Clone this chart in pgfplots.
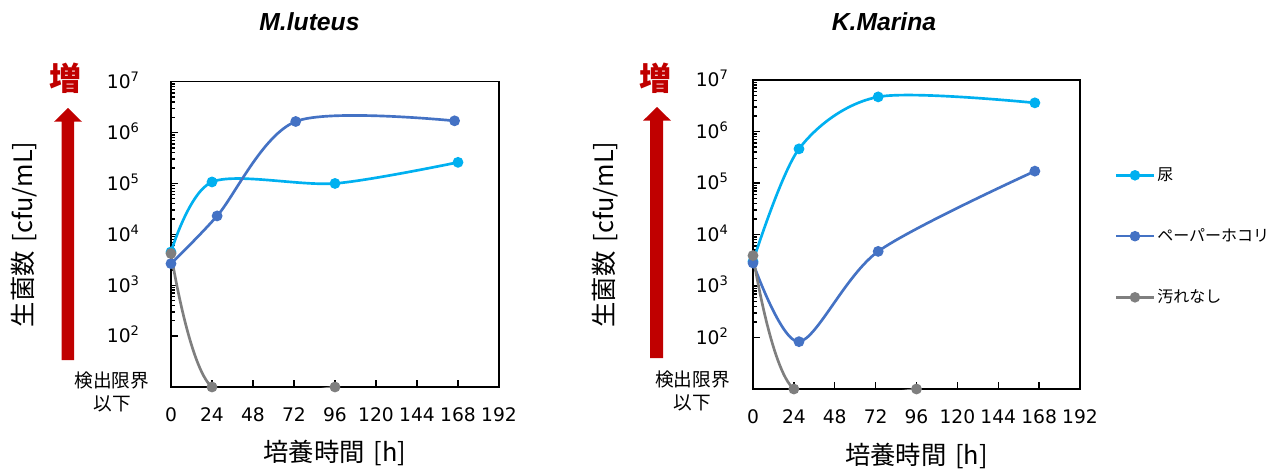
\documentclass[border=0pt]{standalone}
\usepackage{fontspec}
\setmainfont{DejaVu Sans}
\newfontfamily\jp{Noto Sans CJK JP}
\newfontfamily\arial{Liberation Sans}
\usepackage{pgfplots}
\pgfplotsset{compat=1.18}
\definecolor{cUrine}{HTML}{00B0F0}
\definecolor{cPaper}{HTML}{4472C4}
\definecolor{cNone}{HTML}{7F7F7F}
\definecolor{cRed}{HTML}{C00000}

\begin{document}
\begin{tikzpicture}
\path (0,0) rectangle (962.25pt,-352.5pt);

% left
\begin{axis}[
  ymode=log, xmin=0, xmax=192, ymin=10, ymax=1e7,
  scale only axis,
  xtick={0,24,48,72,96,120,144,168,192},
  ytick={100,1000,10000,100000,1000000,10000000},
  yticklabels={10\textsuperscript{2},10\textsuperscript{3},10\textsuperscript{4},10\textsuperscript{5},10\textsuperscript{6},10\textsuperscript{7}},
  tick pos=left,
  tick align=inside,
  major tick length=5pt,
  axis line style={line width=1pt},
  every tick/.style={black, line width=1pt},
  /pgf/number format/assume math mode=true,
  tick label style={font=\fontsize{14}{16}\selectfont},
  xticklabel style={yshift=-12pt},
  xlabel={培養時間\hspace{0.35em}[h]},
  ylabel={生菌数\hspace{0.35em}[cfu/mL]},
  at={(128.25pt,-290.25pt)}, anchor=south west,
  width=246pt, height=229pt,
  yticklabel style={anchor=base east, yshift=-5.1pt, xshift=-20pt},
  xlabel style={at={(axis description cs:0.5,-0.216)}, anchor=center, font=\jp\fontsize{19}{21}\selectfont},
  ylabel style={at={(axis description cs:-0.448,0.5)}, anchor=center, font=\jp\fontsize{19}{21}\selectfont},
]
\addplot[color=cUrine, smooth, line width=2pt, mark=*, mark size=3pt, mark options={fill=cUrine}] coordinates {(0,4500) (24,107000) (96,100000) (168,260000)};
\addplot[color=cPaper, smooth, line width=2pt, mark=*, mark size=3pt, mark options={fill=cPaper}] coordinates {(0,2660) (27,23000) (73,1650000) (166,1700000)};
\addplot[color=cNone, smooth, line width=2pt, mark=*, mark size=3pt, mark options={fill=cNone}] coordinates {(0,4200) (24,10) (96,10)};
\end{axis}

% right
\begin{axis}[
  ymode=log, xmin=0, xmax=192, ymin=10, ymax=1e7,
  scale only axis,
  xtick={0,24,48,72,96,120,144,168,192},
  ytick={100,1000,10000,100000,1000000,10000000},
  yticklabels={10\textsuperscript{2},10\textsuperscript{3},10\textsuperscript{4},10\textsuperscript{5},10\textsuperscript{6},10\textsuperscript{7}},
  tick pos=left,
  tick align=inside,
  major tick length=5pt,
  axis line style={line width=1pt},
  every tick/.style={black, line width=1pt},
  /pgf/number format/assume math mode=true,
  tick label style={font=\fontsize{14}{16}\selectfont},
  xticklabel style={yshift=-12pt},
  xlabel={培養時間\hspace{0.35em}[h]},
  ylabel={生菌数\hspace{0.35em}[cfu/mL]},
  at={(564.75pt,-291.75pt)}, anchor=south west,
  width=245.25pt, height=231.75pt,
  yticklabel style={anchor=base east, yshift=-5.1pt, xshift=-14.8pt},
  xlabel style={at={(axis description cs:0.5,-0.217)}, anchor=center, font=\jp\fontsize{19}{21}\selectfont},
  ylabel style={at={(axis description cs:-0.4526,0.5)}, anchor=center, font=\jp\fontsize{19}{21}\selectfont},
  legend style={draw=none, fill=none, at={(axis description cs:1.107,0.725)}, anchor=north west,
    font=\jp\fontsize{12}{14}\selectfont, row sep=30.5pt, inner sep=0pt},
  legend cell align=left,
  legend image code/.code={\draw[mark repeat=2,mark phase=2,line width=1.8pt] plot coordinates {(0pt,0pt) (13.9pt,0pt) (27.75pt,0pt)};},
]
\addplot[color=cUrine, smooth, line width=2pt, mark=*, mark size=3pt, mark options={fill=cUrine}] coordinates {(0,3000) (27,460000) (73.5,4700000) (165.5,3600000)};
\addlegendentry{尿}
\addplot[color=cPaper, smooth, line width=2pt, mark=*, mark size=3pt, mark options={fill=cPaper}] coordinates {(0,2800) (27,83) (73.5,4700) (165.5,170000)};
\addlegendentry{ペーパーホコリ}
\addplot[color=cNone, smooth, line width=2pt, mark=*, mark size=3pt, mark options={fill=cNone}] coordinates {(0,3900) (24,10) (96,10)};
\addlegendentry{汚れなし}
\end{axis}

% red arrows
\fill[cRed] (46.3pt,-270pt) -- (55.5pt,-270pt) -- (55.5pt,-91.3pt) -- (61.5pt,-91.3pt) -- (51pt,-81pt) -- (40.5pt,-91.3pt) -- (46.3pt,-91.3pt) -- cycle;
\fill[cRed] (487.5pt,-268.5pt) -- (497.25pt,-268.5pt) -- (497.25pt,-90.5pt) -- (503.25pt,-90.5pt) -- (492.75pt,-80.25pt) -- (482.25pt,-90.5pt) -- (487.5pt,-90.5pt) -- cycle;
\node[text=cRed, font=\jp\bfseries\fontsize{24}{26}\selectfont] at (49.5pt,-59pt) {増};
\node[text=cRed, font=\jp\bfseries\fontsize{24}{26}\selectfont] at (491.25pt,-59pt) {増};

% detection limit labels
\node[align=center, font=\jp\fontsize{14}{17}\selectfont, inner sep=0pt] at (84pt,-294pt) {検出限界\\以下};
\node[align=center, font=\jp\fontsize{14}{17}\selectfont, inner sep=0pt] at (519.4pt,-293pt) {検出限界\\以下};

% titles
\node[font=\arial\bfseries\itshape\fontsize{18.5}{21}\selectfont] at (232.1pt,-16.5pt) {M.luteus};
\node[font=\arial\bfseries\itshape\fontsize{18.5}{21}\selectfont] at (663pt,-16.5pt) {K.Marina};
\end{tikzpicture}
\end{document}
